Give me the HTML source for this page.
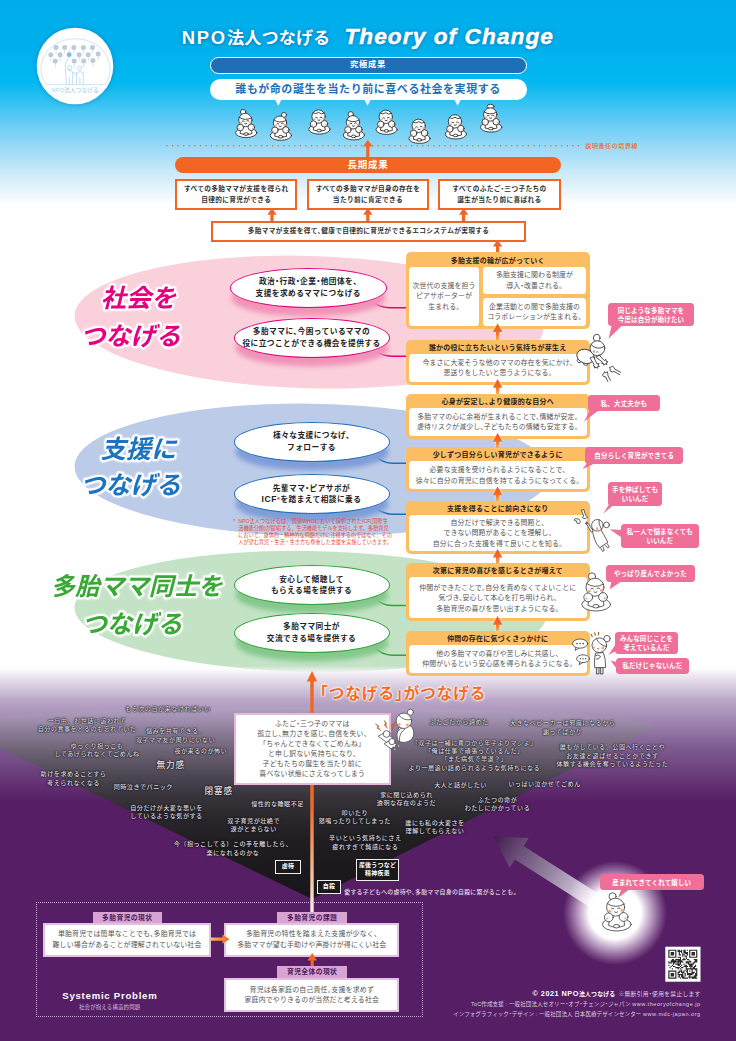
<!DOCTYPE html>
<html lang="ja">
<head>
<meta charset="utf-8">
<title>NPO法人つなげる Theory of Change</title>
<style>
html,body{margin:0;padding:0;background:#fff}
body{width:736px;height:1041px;position:relative;overflow:hidden;font-family:"Liberation Sans","Noto Sans CJK JP",sans-serif;color:#333;-webkit-font-smoothing:antialiased}
.a{position:absolute;box-sizing:border-box}
.c{text-align:center;white-space:nowrap}
svg.bg{position:absolute;left:0;top:0}
/* header */
.title{left:180px;top:22.6px;height:28px;line-height:28px;color:#fff;font-weight:700;white-space:nowrap;text-shadow:0 0 4px rgba(0,90,160,.55),0 1px 2px rgba(0,80,150,.4)}
.title .jp{font-size:17.1px;letter-spacing:.15px;margin-left:1.8px}
.title .jp b{font-size:18.4px;letter-spacing:1.75px}
.title .en{font-size:22.6px;font-style:italic;letter-spacing:1.1px;margin-left:14px;-webkit-text-stroke:.5px #fff}
.pill-blue{left:209.5px;top:56.8px;width:317px;height:17px;border-radius:9px;background:#1d70b7;border:1.6px solid #fff;color:#fff;font-size:8.3px;font-weight:700;line-height:13.6px;letter-spacing:.7px}
.pill-white{left:209.5px;top:79px;width:317px;height:20.6px;border-radius:10.3px;background:#fff;color:#1d70b7;font-size:11px;font-weight:700;line-height:20px;letter-spacing:.55px}
.pill-orange{left:175px;top:157.3px;width:386px;height:16px;border-radius:8px;background:#f26522;color:#fff;font-size:9.5px;font-weight:700;line-height:16px;letter-spacing:.8px}
.obox{background:#fff;border:2px solid #f26522;color:#333;font-size:6.7px;font-weight:700;line-height:10.2px;letter-spacing:.33px;display:flex;align-items:center;justify-content:center;text-align:center;white-space:nowrap}
.border-label{left:585.3px;top:141.7px;font-size:6px;line-height:8px;color:#f26a2b;font-weight:500;letter-spacing:.6px;white-space:nowrap}

body{font-feature-settings:"halt" 1}
/* ellipse pills */
.pill{background:#fff;border-radius:50%;border:1.7px solid #e4007f;color:#222;font-size:7.7px;font-weight:700;line-height:11.6px;letter-spacing:.45px;display:flex;align-items:center;justify-content:center;text-align:center;white-space:nowrap}
.pill.pk{border-color:#e4007f;box-shadow:0 10px 5px -1.5px #f193b8}
.pill.bl{border-color:#1d6fb8;box-shadow:0 10px 5px -1.5px #7f9dd8}
.pill.gr{border-color:#2ea33a;box-shadow:0 10px 5px -1.5px #86c88c}
.note{left:233.3px;top:518px;width:154.5px;font-size:5.15px;line-height:7.05px;color:#e8452c;padding-left:5px;text-align:justify;text-align-last:justify;white-space:nowrap;font-feature-settings:"halt" 0}
/* yellow column */
.yb{left:406px;width:183.5px;background:#fbbe63;border-radius:5px}
.yh{left:406px;width:183.5px;height:14px;line-height:14px;padding-top:1.1px;font-size:7px;font-weight:700;color:#2b2118;letter-spacing:.25px}
.wb{padding-top:1px;background:#fff;border-radius:3.5px;color:#555;font-size:6.9px;line-height:10.4px;letter-spacing:.12px;display:flex;align-items:center;justify-content:center;text-align:center;white-space:nowrap}
/* pink bubbles */
.bub{font-feature-settings:"halt" 0;background:#ef6f99;border-radius:3.5px;color:#fff;font-size:6.5px;font-weight:700;line-height:9px;letter-spacing:.15px;display:flex;align-items:center;justify-content:center;text-align:center;white-space:nowrap}

/* dark section */
.tsu{left:320px;top:681.5px;font-size:15.6px;line-height:24px;color:#f26a21;font-weight:700;letter-spacing:.95px;white-space:nowrap;text-shadow:0 0 1.5px #fff,0 0 2.5px #fff,0 0 3px #fff}
.mbox{left:233.5px;top:712.5px;width:157.5px;height:72.5px;background:#fff;border:2px solid #e9b7dd;color:#555;font-size:6.9px;line-height:10px;letter-spacing:.2px;display:flex;align-items:center;justify-content:center;text-align:center;white-space:nowrap}
.v{font-feature-settings:"halt" 0;position:absolute;transform:translate(-50%,-50%);text-align:center;white-space:nowrap;color:#dcd8e0;font-size:6.1px;line-height:8.3px;letter-spacing:.5px;font-weight:500;text-shadow:0 0 1px #111,0 0 1.5px #111,0 0 2px #222}
.v.big{font-size:8.6px;letter-spacing:.8px;color:#e6e2ea}
.kb{background:#1a181a;border:1px solid #eee;color:#fff;font-size:6px;font-weight:700;line-height:7.8px;letter-spacing:.2px;display:flex;align-items:center;justify-content:center;text-align:center;white-space:nowrap}
.sub{left:344.3px;top:886.6px;font-size:5.9px;line-height:10px;color:#e4dbe8;letter-spacing:.26px;white-space:nowrap;font-weight:500}
/* systemic */
.lab{background:#d9a3d3;color:#4a1a57;font-size:6.8px;font-weight:700;line-height:12px;letter-spacing:.4px;height:12px}
.sbox{background:#fff;border:2px solid #e3bfe3;color:#555;font-size:6.95px;line-height:10.3px;letter-spacing:.17px;display:flex;align-items:center;justify-content:center;text-align:center;white-space:nowrap}
.sp1{left:62.3px;top:989.3px;font-size:9.6px;line-height:14px;color:#fff;font-weight:700;letter-spacing:.75px;white-space:nowrap}
.sp2{left:79px;top:1002.5px;font-size:5.4px;line-height:8px;color:#d9bfe0;letter-spacing:.2px;white-space:nowrap}
.cr{right:35.3px;text-align:right;white-space:nowrap;color:#dccfe2}
.cr1{top:988px;font-size:5.75px;line-height:11px;letter-spacing:.33px}
.cr1 b{font-size:7.3px;color:#fff;letter-spacing:.5px;margin-right:3px}
.cr2{top:1000px;font-size:5.5px;line-height:9px;letter-spacing:.15px}
.cr1 b i{font-style:normal;font-size:5.9px;letter-spacing:.2px}
.cr u{text-decoration:none;letter-spacing:.55px}
.cr3{top:1010px;font-size:5.5px;line-height:9px;letter-spacing:.1px}
</style>
</head>
<body>
<!-- ===== background layers ===== -->
<svg class="bg" width="736" height="1041" viewBox="0 0 736 1041">
  <defs>
    <linearGradient id="gTop" x1="0" y1="0" x2="0" y2="1">
      <stop offset="0" stop-color="#00adea"/>
      <stop offset="0.2" stop-color="#00afec"/>
      <stop offset="0.40" stop-color="#02b8f0"/>
      <stop offset="0.61" stop-color="#6acdf4"/>
      <stop offset="0.73" stop-color="#9edbf7"/>
      <stop offset="0.854" stop-color="#cfebfa"/>
      <stop offset="1" stop-color="#ffffff"/>
    </linearGradient>
    <linearGradient id="gBot" x1="0" y1="0" x2="0" y2="1">
      <stop offset="0" stop-color="#ffffff" stop-opacity="0"/>
      <stop offset="0.05" stop-color="#f3eff6" stop-opacity="1"/>
      <stop offset="0.25" stop-color="#bba8c8"/>
      <stop offset="0.6" stop-color="#7e5b91"/>
      <stop offset="1" stop-color="#561e64"/>
    </linearGradient>
    <linearGradient id="gFun" gradientUnits="userSpaceOnUse" x1="0" y1="690" x2="0" y2="897">
      <stop offset="0" stop-color="#c9bad3" stop-opacity="0"/>
      <stop offset="0.077" stop-color="#b9a9c6" stop-opacity=".5"/>
      <stop offset="0.188" stop-color="#8f809c" stop-opacity="1"/>
      <stop offset="0.30" stop-color="#6b6173"/>
      <stop offset="0.41" stop-color="#4d4753"/>
      <stop offset="0.52" stop-color="#37333a"/>
      <stop offset="0.63" stop-color="#28262a"/>
      <stop offset="0.725" stop-color="#201e21"/>
      <stop offset="1" stop-color="#171517"/>
    </linearGradient>
    <linearGradient id="gArr" x1="0" y1="1" x2="0" y2="0">
      <stop offset="0" stop-color="#fbb65b"/>
      <stop offset="0.5" stop-color="#f26a22"/>
      <stop offset="1" stop-color="#ef5a24"/>
    </linearGradient>
  </defs>
  <rect x="0" y="0" width="736" height="205" fill="url(#gTop)"/>
  <rect x="0" y="801" width="736" height="240" fill="#561e64"/>
  <!-- ellipses -->
  <ellipse cx="309" cy="322.1" rx="234.5" ry="66.2" fill="#fad0db" transform="rotate(1.6 309 322.1)"/>
  <ellipse cx="312.5" cy="470" rx="238" ry="66.3" fill="#bccbe8" transform="rotate(0.9 312.5 470)"/>
  <ellipse cx="310.5" cy="611.4" rx="236" ry="60.5" fill="#c4e3c6" transform="rotate(1.0 310.5 611.4)"/>
  <!-- lavender band re-drawn over green ellipse -->
  <rect x="0" y="666" width="736" height="136" fill="url(#gBot)"/>
  <!-- funnel -->
  <path d="M312 899 L-58 720 L-58 727 A356 20 0 0 1 654 727.5 Z" fill="url(#gFun)"/>

  <!-- glow + light arrow -->
  <defs>
    <radialGradient id="gGlow" cx="0.5" cy="0.5" r="0.5">
      <stop offset="0" stop-color="#fff" stop-opacity="1"/>
      <stop offset="0.5" stop-color="#fff" stop-opacity="1"/>
      <stop offset="0.72" stop-color="#f3e6f7" stop-opacity=".6"/>
      <stop offset="1" stop-color="#e9d4f0" stop-opacity="0"/>
    </radialGradient>
    <linearGradient id="gBeam" gradientUnits="userSpaceOnUse" x1="493.7" y1="836.4" x2="600" y2="904">
      <stop offset="0" stop-color="#3f1c4b"/>
      <stop offset="0.25" stop-color="#6b5078"/>
      <stop offset="0.55" stop-color="#9887a5"/>
      <stop offset="0.85" stop-color="#d5ccdb"/>
      <stop offset="1" stop-color="#ffffff"/>
    </linearGradient>
    <linearGradient id="gLine" gradientUnits="userSpaceOnUse" x1="0" y1="680" x2="0" y2="912">
      <stop offset="0" stop-color="#f26522"/>
      <stop offset="0.55" stop-color="#f26a28"/>
      <stop offset="0.8" stop-color="#f7b08a"/>
      <stop offset="1" stop-color="#fdeee8"/>
    </linearGradient>
  </defs>
  <path d="M493.7 836.4 L528.7 838 L523.5 846.1 L618.3 906.3 L609.7 919.7 L514.8 859.6 L509.6 867.7 Z" fill="url(#gBeam)"/>
  <circle cx="615" cy="913" r="52" fill="url(#gGlow)"/>
  <path d="M310.3 912 L310.3 681.5 L306.9 681.5 L312 671 L317.1 681.5 L313.7 681.5 L313.7 912 Z" fill="url(#gLine)"/>
  <!-- dotted boundary line -->
  <line x1="167" y1="145.8" x2="578.5" y2="145.8" stroke="#f26522" stroke-width="1.5" stroke-linecap="round" stroke-dasharray="0.01 5.55" />
  <!-- header arrows -->
  <path d="M366.2 158 L366.2 146.60000000000002 L363.1 146.60000000000002 L367.8 139.8 L372.5 146.60000000000002 L369.4 146.60000000000002 L369.4 158 Z" fill="#f26522"/>
  <path d="M270.4 222 L270.4 214.8 L267.3 214.8 L272 208 L276.7 214.8 L273.6 214.8 L273.6 222 Z" fill="#f26522"/>
  <path d="M366.2 222 L366.2 214.8 L363.1 214.8 L367.8 208 L372.5 214.8 L369.4 214.8 L369.4 222 Z" fill="#f26522"/>
  <path d="M462.0 222 L462.0 214.8 L458.9 214.8 L463.6 208 L468.3 214.8 L465.2 214.8 L465.2 222 Z" fill="#f26522"/>
  <path d="M496.0 253.5 L496.0 246.60000000000002 L492.9 246.60000000000002 L497.6 239.8 L502.3 246.60000000000002 L499.2 246.60000000000002 L499.2 253.5 Z" fill="#f26522"/>
</svg>

<!-- ===== logo ===== -->
<svg class="bg" width="736" height="1041" viewBox="0 0 736 1041">
  <circle cx="75" cy="66" r="38.3" fill="#fff" style="filter:drop-shadow(0 0 2.5px rgba(0,90,160,.45))"/>
  <path d="M46.7 84.6 C33 70 44 39 75.3 38.8 C107 39 118 70 104.5 84.6 Z" fill="none" stroke="#b7dcf5" stroke-width=".7"/>
  <g fill="#bccbd9"><circle cx="56.0" cy="47.6" r="2.5"/><rect x="55.75" y="49.6" width=".5" height="4.6"/><circle cx="64.7" cy="47.6" r="2.5"/><rect x="64.45" y="49.6" width=".5" height="4.6"/><circle cx="73.9" cy="47.6" r="2.5"/><rect x="73.65" y="49.6" width=".5" height="4.6"/><circle cx="83.4" cy="47.6" r="2.5"/><rect x="83.15" y="49.6" width=".5" height="4.6"/><circle cx="92.5" cy="47.6" r="2.5"/><rect x="92.25" y="49.6" width=".5" height="4.6"/><circle cx="50.8" cy="54.7" r="2.5"/><rect x="50.55" y="56.7" width=".5" height="4.6"/><circle cx="60.1" cy="54.7" r="2.5"/><rect x="59.85" y="56.7" width=".5" height="4.6"/><circle cx="79.1" cy="54.7" r="2.5"/><rect x="78.85" y="56.7" width=".5" height="4.6"/><circle cx="88.2" cy="54.7" r="2.5"/><rect x="87.95" y="56.7" width=".5" height="4.6"/><circle cx="98.1" cy="54.1" r="2.5"/><rect x="97.85" y="56.1" width=".5" height="4.6"/><circle cx="55.2" cy="60.9" r="2.5"/><rect x="54.95" y="62.9" width=".5" height="4.6"/><circle cx="74.2" cy="60.9" r="2.5"/><rect x="73.95" y="62.9" width=".5" height="4.6"/><circle cx="83.7" cy="60.9" r="2.5"/><rect x="83.45" y="62.9" width=".5" height="4.6"/><circle cx="92.9" cy="60.5" r="2.5"/><rect x="92.65" y="62.5" width=".5" height="4.6"/></g>
  <circle cx="69.2" cy="54.7" r="2.4" fill="#7fbbe9"/>
  <path d="M68.2 50.6 l.9 1 l.9 -1" fill="none" stroke="#f0a860" stroke-width=".6"/>
  <g fill="none" stroke="#a3d0f0" stroke-width=".7" stroke-linejoin="round">
    <path d="M68.8 57.1 L65.2 64.2 L66.4 84.6 M72.6 84.6 L72.8 72.1 M69.2 84.6 V76.8"/>
    <circle cx="69.8" cy="67.7" r="2.2"/>
    <path d="M67.1 70.0 Q69.8 69.1 72.8 72.1 L76.4 74.8"/>
    <circle cx="79.6" cy="68.3" r="2"/>
    <path d="M76.6 84.6 V72.7 Q79.6 70.7 83.2 72.7 V84.6 M79.9 84.6 V77.8"/>
  </g>
  <text x="75.2" y="92.3" text-anchor="middle" font-size="5.5" fill="#a6d2f0" style="font-family:'Liberation Sans','Noto Sans CJK JP',sans-serif;font-weight:500;letter-spacing:.25px">NPO法人つなげる</text>
</svg>
<!-- ===== header ===== -->
<div class="a title"><span class="jp"><b>NPO</b>法人つなげる</span><span class="en">Theory of Change</span></div>
<div class="a c pill-blue">究極成果</div>
<div class="a c pill-white">誰もが命の誕生を当たり前に喜べる社会を実現する</div>
<div class="a border-label">説明責任の境界線</div>
<div class="a c pill-orange">長期成果</div>
<div class="a obox" style="left:175.2px;top:179px;width:122px;height:31px">すべての多胎ママが支援を得られ<br>自律的に育児ができる</div>
<div class="a obox" style="left:306.6px;top:179px;width:122.6px;height:31px">すべての多胎ママが自身の存在を<br>当たり前に肯定できる</div>
<div class="a obox" style="left:438px;top:179px;width:122.8px;height:31px">すべてのふたご・三つ子たちの<br>誕生が当たり前に喜ばれる</div>
<div class="a obox" style="left:211px;top:221px;width:315px;height:20.5px">多胎ママが支援を得て、健康で自律的に育児ができるエコシステムが実現する</div>
<!-- ===== three connect areas ===== -->
<svg class="bg" width="736" height="1041" viewBox="0 0 736 1041" style="font-family:'Liberation Sans','Noto Sans CJK JP',sans-serif;font-weight:700;font-style:italic" text-anchor="middle" stroke-linejoin="round">
  <g font-size="25.2" stroke="#fff" stroke-width="4" paint-order="stroke" style="filter:drop-shadow(0 0 1.2px rgba(255,255,255,.95))">
    <text x="138.5" y="307.3" fill="#e4007f">社会を</text>
    <text x="130.5" y="344.8" fill="#e4007f">つなげる</text>
    <text x="138.5" y="458.3" fill="#1c73bf">支援に</text>
    <text x="130.5" y="494.3" fill="#1c73bf">つなげる</text>
    <text x="136.5" y="595.2" fill="#39a935" font-size="24.6">多胎ママ同士を</text>
    <text x="132" y="633" fill="#39a935">つなげる</text>
  </g>
  <!-- connectors from pills to boxes -->
  <g fill="none" stroke-width="1.5">
    <path d="M370 299.5 C376 305 381 307.7 390 307.7 L407 307.7" stroke="#e4007f"/>
    <path d="M373.5 349.5 C379 354 384 356.2 392 356.2 L407 356.2" stroke="#e4007f"/>
    <path d="M373.5 454 C379 460 384 463.2 392 463.2 L407 463.2" stroke="#1d6fb8"/>
    <path d="M373.5 506 C379 511 384 514.2 392 514.2 L407 514.2" stroke="#1d6fb8"/>
    <path d="M373.5 597 C379 602.5 384 605.6 392 605.6 L407 605.6" stroke="#2ea33a"/>
    <path d="M373.5 646.5 C379 652 384 655.2 392 655.2 L407 655.2" stroke="#2ea33a"/>
  </g>
</svg>
<div class="a pill pk" style="left:230px;top:268px;width:156.5px;height:39.5px">政治・行政・企業・他団体を、<br>支援を求めるママにつなげる</div>
<div class="a pill pk" style="left:233.5px;top:318px;width:156px;height:39.5px">多胎ママに、今困っているママの<br>役に立つことができる機会を提供する</div>
<div class="a pill bl" style="left:233.5px;top:422.3px;width:156px;height:39.5px">様々な支援につなげ、<br>フォローする</div>
<div class="a pill bl" style="left:233.5px;top:474.4px;width:156px;height:39.6px"><span>先輩ママ・ピアサポが<br><span style="font-size:8.6px;letter-spacing:.5px">ICF</span><span style="color:#e8452c">*</span>を踏まえて相談に乗る</span></div>
<div class="a pill gr" style="left:233.5px;top:565.3px;width:156px;height:39.7px">安心して傾聴して<br>もらえる場を提供する</div>
<div class="a pill gr" style="left:233.5px;top:613px;width:156px;height:39.8px">多胎ママ同士が<br>交流できる場を提供する</div>
<div class="a note"><span style="position:absolute;left:0">*</span>NPO法人つなげるは、国連WHOにおいて採択されたICF(国際生<br>活機能分類)が提唱する、生活機能モデルを支持します。多胎育児<br>において、身体的・精神的な問題だけに注視するのではなく、その<br>人が望む育児・生活・生き方も尊重した支援を実施していきます。</div>

<!-- ===== outcome column ===== -->
<div class="a yb" style="top:252.2px;height:76.6px"></div>
<div class="a c yh" style="top:252.5px">多胎支援の輪が広がっていく</div>
<div class="a yb" style="top:340px;height:44.5px"></div>
<div class="a c yh" style="top:340px">誰かの役に立ちたいという気持ちが芽生え</div>
<div class="a wb" style="left:409px;top:354px;width:177.5px;height:27.5px">今まさに大変そうな他のママの存在を気にかけ、<br>恩送りをしたいと思うようになる。</div>
<div class="a yb" style="top:393.5px;height:45.0px"></div>
<div class="a c yh" style="top:393.5px">心身が安定し、より健康的な自分へ</div>
<div class="a wb" style="left:409px;top:407.8px;width:177.5px;height:28.2px">多胎ママの心に余裕が生まれることで、情緒が安定。<br>虐待リスクが減少し、子どもたちの情緒も安定する。</div>
<div class="a yb" style="top:447.3px;height:44.7px"></div>
<div class="a c yh" style="top:447.3px">少しずつ自分らしい育児ができるように</div>
<div class="a wb" style="left:409px;top:461.3px;width:177.5px;height:27.7px">必要な支援を受けられるようになることで、<br>徐々に自分の育児に自信を持てるようになってくる。</div>
<div class="a yb" style="top:500.5px;height:53.8px"></div>
<div class="a c yh" style="top:500.5px">支援を得ることに前向きになり</div>
<div class="a wb" style="left:409px;top:514.8px;width:177.5px;height:36.5px">自分だけで解決できる問題と、<br>できない問題があることを理解し、<br>自分に合った支援を得て良いことを知る。</div>
<div class="a yb" style="top:563.2px;height:58.3px"></div>
<div class="a c yh" style="top:563.2px">次第に育児の喜びを感じるときが増えて</div>
<div class="a wb" style="left:409px;top:577.3px;width:177.5px;height:41.2px">仲間ができたことで、自分を責めなくてよいことに<br>気づき、安心して本心を打ち明けられ、<br>多胎育児の喜びを思い出すようになる。</div>
<div class="a yb" style="top:630.5px;height:45.3px"></div>
<div class="a c yh" style="top:630.5px">仲間の存在に気づくきっかけに</div>
<div class="a wb" style="left:409px;top:644.8px;width:177.5px;height:28.2px">他の多胎ママの喜びや苦しみに共感し、<br>仲間がいるという安心感を得られるようになる。</div>
<div class="a wb" style="left:409px;top:266.5px;width:70px;height:59.2px">次世代の支援を担う<br>ピアサポーターが<br>生まれる。</div>
<div class="a wb" style="left:482.7px;top:266.5px;width:103.5px;height:27.2px">多胎支援に関わる制度が<br>導入・改善される。</div>
<div class="a wb" style="left:482.7px;top:298.2px;width:103.5px;height:27.5px">企業活動との間で多胎支援の<br>コラボレーションが生まれる。</div>
<svg class="bg" width="736" height="1041" viewBox="0 0 736 1041" style="filter:drop-shadow(0 0 1px rgba(255,255,255,.8))">
  <path d="M495.9 341.0 L495.9 332.0 L492.8 332.0 L497.6 323.4 L502.4 332.0 L499.3 332.0 L499.3 341.0 Z" fill="url(#gArr)"/>
  <path d="M495.9 394.5 L495.9 387.7 L492.8 387.7 L497.6 379.1 L502.4 387.7 L499.3 387.7 L499.3 394.5 Z" fill="url(#gArr)"/>
  <path d="M495.9 448.3 L495.9 441.7 L492.8 441.7 L497.6 433.1 L502.4 441.7 L499.3 441.7 L499.3 448.3 Z" fill="url(#gArr)"/>
  <path d="M495.9 501.5 L495.9 495.2 L492.8 495.2 L497.6 486.6 L502.4 495.2 L499.3 495.2 L499.3 501.5 Z" fill="url(#gArr)"/>
  <path d="M495.9 564.2 L495.9 557.5 L492.8 557.5 L497.6 548.9 L502.4 557.5 L499.3 557.5 L499.3 564.2 Z" fill="url(#gArr)"/>
  <path d="M495.9 631.5 L495.9 624.7 L492.8 624.7 L497.6 616.1 L502.4 624.7 L499.3 624.7 L499.3 631.5 Z" fill="url(#gArr)"/>
</svg>
<!-- ===== voices ===== -->
<div class="a bub" style="left:608.2px;top:302.7px;width:85.6px;height:23.8px">同じような多胎ママを<br>今度は自分が助けたい</div>
<div class="a bub" style="left:588px;top:395px;width:72.0px;height:16.2px">私、大丈夫かも</div>
<div class="a bub" style="left:585.3px;top:447.4px;width:97.9px;height:16.5px">自分らしく育児ができてる</div>
<div class="a bub" style="left:608.2px;top:481.5px;width:53.8px;height:24.2px">手を伸ばしても<br>いいんだ</div>
<div class="a bub" style="left:620.7px;top:524.3px;width:78.3px;height:24.0px">私一人で悩まなくても<br>いいんだ</div>
<div class="a bub" style="left:605.9px;top:565.3px;width:89.0px;height:16.5px">やっぱり産んでよかった</div>
<div class="a bub" style="left:615px;top:632.2px;width:63.0px;height:22.1px">みんな同じことを<br>考えているんだ</div>
<div class="a bub" style="left:615.6px;top:657.7px;width:73.6px;height:16.3px">私だけじゃないんだ</div>
<svg class="bg" width="736" height="1041" viewBox="0 0 736 1041">
  <polygon points="611.5,326 621.5,326 608.6,338.7" fill="#ef6f99"/>
  <polygon points="590,410.5 598.5,410.5 584,421.4" fill="#ef6f99"/>
  <polygon points="587,463 595.5,463 582.5,469.2" fill="#ef6f99"/>
  <polygon points="608.6,505 613.5,505 603.3,513.7" fill="#ef6f99"/>
  <polygon points="621.5,530 621.5,537.5 609.7,529.2" fill="#ef6f99"/>
  <polygon points="611.5,581 622,581 609.7,589.2" fill="#ef6f99"/>
  <polygon points="615.8,644 615.8,651 608.6,655" fill="#ef6f99"/>
  <polygon points="616.4,662 616.4,668.5 610.7,660.6" fill="#ef6f99"/>
  <polygon points="621,890 628.5,890 618,897.7" fill="#ef6f99"/>
</svg>
<!-- ===== problem area ===== -->
<div class="a tsu">「つなげる」がつなげる</div>
<div class="v " style="left:168px;top:709.4px">もう次の日が来なければいい</div>
<div class="v " style="left:87px;top:725.2px">一日中、お世話に追われて<br>自分の食事をとるのも忘れていた</div>
<div class="v " style="left:175.5px;top:735.4px">悩みを共有できる、<br>双子ママ友が周りにいない</div>
<div class="v " style="left:97px;top:750px">ゆっくり抱っこも<br>してあげられなくてごめんね</div>
<div class="v " style="left:200.8px;top:751px">夜が来るのが怖い</div>
<div class="v big" style="left:170.7px;top:765.4px">無力感</div>
<div class="v " style="left:73.5px;top:778.3px">助けを求めることすら<br>考えられなくなる</div>
<div class="v " style="left:143.3px;top:786.8px">同時泣きでパニック</div>
<div class="v big" style="left:218.7px;top:791.2px">閉塞感</div>
<div class="v " style="left:166.5px;top:811.8px">自分だけが大変な思いを<br>しているような気がする</div>
<div class="v " style="left:277.5px;top:803.7px">慢性的な睡眠不足</div>
<div class="v " style="left:253.7px;top:825px">双子育児が壮絶で<br>涙がとまらない</div>
<div class="v " style="left:233px;top:848.4px">今（抱っこしてる）この手を離したら、<br>楽になれるのかな</div>
<div class="v " style="left:354.8px;top:817px">叩いたり<br>怒鳴ったりしてしまった</div>
<div class="v " style="left:365.3px;top:842.4px">辛いという気持ちにさえ<br>疲れすぎて鈍感になる</div>
<div class="v " style="left:459px;top:721.6px">ふたごだから諦めた</div>
<div class="v " style="left:562.6px;top:727.4px">大きなベビーカーは邪魔になるから<br>謝ってばかり</div>
<div class="v " style="left:474.3px;top:755.8px">「双子は一緒に育つから年子よりマシよ」<br>「俺は仕事で頑張っているんだ」<br>「また病気で早退？」<br>より一層追い詰められるような気持ちになる</div>
<div class="v " style="left:612.4px;top:755.4px">誰もがしている、公園へ行くことや<br>お友達と遊ばせることができず<br>体験する機会を奪っているようだった</div>
<div class="v " style="left:460.5px;top:784.5px">大人と話がしたい</div>
<div class="v " style="left:544.5px;top:784px">いっぱい泣かせてごめん</div>
<div class="v " style="left:497.5px;top:803.7px">ふたつの命が<br>わたしにかかっている</div>
<div class="v " style="left:406.5px;top:799.1px">家に閉じ込められ<br>透明な存在のようだ</div>
<div class="v " style="left:435px;top:826.8px">誰にも私の大変さを<br>理解してもらえない</div>
<div class="a mbox">ふたご・三つ子のママは<br>孤立し、無力さを感じ、自信を失い、<br>「ちゃんとできなくてごめんね」<br>と申し訳ない気持ちになり、<br>子どもたちの誕生を当たり前に<br>喜べない状態にさえなってしまう</div>
<div class="a kb" style="left:275px;top:859.5px;width:26px;height:14.5px">虐待</div>
<div class="a kb" style="left:356px;top:859px;width:43px;height:21.6px">産後うつなど<br>精神疾患</div>
<div class="a kb" style="left:317px;top:880.4px;width:24px;height:13.8px">自殺</div>
<div class="a sub">愛する子どもへの虐待や、多胎ママ自身の自殺に繋がることも。</div>
<!-- ===== systemic problem ===== -->
<div class="a" style="left:35.5px;top:902px;width:387px;height:115px;border:1px dotted rgba(226,208,234,.8)"></div>
<div class="a c lab" style="left:92.5px;top:911.5px;width:69.5px">多胎育児の現状</div>
<div class="a sbox" style="left:43.3px;top:922.8px;width:167.5px;height:33.8px">単胎育児では簡単なことでも、多胎育児では<br>難しい場合があることが理解されていない社会</div>
<div class="a c lab" style="left:277.3px;top:911.5px;width:69.7px">多胎育児の課題</div>
<div class="a sbox" style="left:224.3px;top:922.8px;width:175px;height:33.8px">多胎育児の特性を踏まえた支援が少なく、<br>多胎ママが望む手助けや声掛けが得にくい社会</div>
<div class="a c lab" style="left:277.3px;top:966px;width:69.7px">育児全体の現状</div>
<div class="a sbox" style="left:224.3px;top:978px;width:175px;height:33.8px">育児は各家庭の自己責任。支援を求めず<br>家庭内でやりきるのが当然だと考える社会</div>
<div class="a sp1">Systemic Problem</div>
<div class="a sp2">社会が抱える構造的問題</div>
<div class="a bub" style="left:600px;top:874.3px;width:103.5px;height:16.2px">産まれてきてくれて嬉しい</div>
<div class="a cr cr1"><b>© 2021 NPO<i>法人つなげる</i></b>※無断引用・使用を禁止します</div>
<div class="a cr cr2">ToC作成支援 : 一般社団法人セオリー・オブ・チェンジ・ジャパン <u>www.theoryofchange.jp</u></div>
<div class="a cr cr3">インフォグラフィック・デザイン : 一般社団法人 日本医療デザインセンター <u>www.mdc-japan.org</u></div>
<!-- ===== qr + arrows ===== -->
<svg class="bg" width="736" height="1041" viewBox="0 0 736 1041">
  <rect x="665.3" y="946.7" width="35.2" height="35" fill="#fff"/>
  <path d="M668.30 949.70h8.12v1.16h-8.12zM677.58 949.70h2.32v1.16h-2.32zM681.06 949.70h1.16v1.16h-1.16zM683.38 949.70h2.32v1.16h-2.32zM686.86 949.70h1.16v1.16h-1.16zM689.18 949.70h8.12v1.16h-8.12zM668.30 950.86h1.16v1.16h-1.16zM675.26 950.86h1.16v1.16h-1.16zM677.58 950.86h4.64v1.16h-4.64zM683.38 950.86h2.32v1.16h-2.32zM689.18 950.86h1.16v1.16h-1.16zM696.14 950.86h1.16v1.16h-1.16zM668.30 952.02h1.16v1.16h-1.16zM670.62 952.02h3.48v1.16h-3.48zM675.26 952.02h1.16v1.16h-1.16zM678.74 952.02h1.16v1.16h-1.16zM681.06 952.02h1.16v1.16h-1.16zM683.38 952.02h4.64v1.16h-4.64zM689.18 952.02h1.16v1.16h-1.16zM691.50 952.02h3.48v1.16h-3.48zM696.14 952.02h1.16v1.16h-1.16zM668.30 953.18h1.16v1.16h-1.16zM670.62 953.18h3.48v1.16h-3.48zM675.26 953.18h1.16v1.16h-1.16zM678.74 953.18h1.16v1.16h-1.16zM682.22 953.18h1.16v1.16h-1.16zM684.54 953.18h3.48v1.16h-3.48zM689.18 953.18h1.16v1.16h-1.16zM691.50 953.18h3.48v1.16h-3.48zM696.14 953.18h1.16v1.16h-1.16zM668.30 954.34h1.16v1.16h-1.16zM670.62 954.34h3.48v1.16h-3.48zM675.26 954.34h1.16v1.16h-1.16zM678.74 954.34h2.32v1.16h-2.32zM682.22 954.34h2.32v1.16h-2.32zM686.86 954.34h1.16v1.16h-1.16zM689.18 954.34h1.16v1.16h-1.16zM691.50 954.34h3.48v1.16h-3.48zM696.14 954.34h1.16v1.16h-1.16zM668.30 955.50h1.16v1.16h-1.16zM675.26 955.50h1.16v1.16h-1.16zM682.22 955.50h1.16v1.16h-1.16zM684.54 955.50h2.32v1.16h-2.32zM689.18 955.50h1.16v1.16h-1.16zM696.14 955.50h1.16v1.16h-1.16zM668.30 956.66h8.12v1.16h-8.12zM677.58 956.66h3.48v1.16h-3.48zM685.70 956.66h1.16v1.16h-1.16zM689.18 956.66h8.12v1.16h-8.12zM679.90 957.82h1.16v1.16h-1.16zM683.38 957.82h1.16v1.16h-1.16zM685.70 957.82h1.16v1.16h-1.16zM671.78 958.98h2.32v1.16h-2.32zM675.26 958.98h5.80v1.16h-5.80zM682.22 958.98h3.48v1.16h-3.48zM686.86 958.98h2.32v1.16h-2.32zM693.82 958.98h3.48v1.16h-3.48zM670.62 960.14h5.80v1.16h-5.80zM677.58 960.14h4.64v1.16h-4.64zM689.18 960.14h1.16v1.16h-1.16zM694.98 960.14h2.32v1.16h-2.32zM668.30 961.30h1.16v1.16h-1.16zM670.62 961.30h12.76v1.16h-12.76zM685.70 961.30h5.80v1.16h-5.80zM693.82 961.30h3.48v1.16h-3.48zM668.30 962.46h3.48v1.16h-3.48zM672.94 962.46h2.32v1.16h-2.32zM677.58 962.46h1.16v1.16h-1.16zM679.90 962.46h1.16v1.16h-1.16zM685.70 962.46h3.48v1.16h-3.48zM692.66 962.46h2.32v1.16h-2.32zM672.94 963.62h1.16v1.16h-1.16zM675.26 963.62h5.80v1.16h-5.80zM683.38 963.62h1.16v1.16h-1.16zM688.02 963.62h5.80v1.16h-5.80zM668.30 964.78h1.16v1.16h-1.16zM671.78 964.78h1.16v1.16h-1.16zM677.58 964.78h2.32v1.16h-2.32zM681.06 964.78h1.16v1.16h-1.16zM684.54 964.78h2.32v1.16h-2.32zM689.18 964.78h3.48v1.16h-3.48zM694.98 964.78h1.16v1.16h-1.16zM670.62 965.94h1.16v1.16h-1.16zM672.94 965.94h2.32v1.16h-2.32zM679.90 965.94h1.16v1.16h-1.16zM683.38 965.94h4.64v1.16h-4.64zM689.18 965.94h3.48v1.16h-3.48zM693.82 965.94h2.32v1.16h-2.32zM669.46 967.10h1.16v1.16h-1.16zM675.26 967.10h4.64v1.16h-4.64zM681.06 967.10h2.32v1.16h-2.32zM685.70 967.10h1.16v1.16h-1.16zM690.34 967.10h1.16v1.16h-1.16zM692.66 967.10h2.32v1.16h-2.32zM671.78 968.26h1.16v1.16h-1.16zM677.58 968.26h1.16v1.16h-1.16zM679.90 968.26h1.16v1.16h-1.16zM685.70 968.26h11.60v1.16h-11.60zM681.06 969.42h1.16v1.16h-1.16zM684.54 969.42h1.16v1.16h-1.16zM686.86 969.42h1.16v1.16h-1.16zM691.50 969.42h1.16v1.16h-1.16zM694.98 969.42h2.32v1.16h-2.32zM668.30 970.58h8.12v1.16h-8.12zM678.74 970.58h3.48v1.16h-3.48zM683.38 970.58h1.16v1.16h-1.16zM685.70 970.58h2.32v1.16h-2.32zM689.18 970.58h1.16v1.16h-1.16zM691.50 970.58h1.16v1.16h-1.16zM696.14 970.58h1.16v1.16h-1.16zM668.30 971.74h1.16v1.16h-1.16zM675.26 971.74h1.16v1.16h-1.16zM677.58 971.74h2.32v1.16h-2.32zM681.06 971.74h3.48v1.16h-3.48zM686.86 971.74h1.16v1.16h-1.16zM691.50 971.74h3.48v1.16h-3.48zM696.14 971.74h1.16v1.16h-1.16zM668.30 972.90h1.16v1.16h-1.16zM670.62 972.90h3.48v1.16h-3.48zM675.26 972.90h1.16v1.16h-1.16zM677.58 972.90h1.16v1.16h-1.16zM682.22 972.90h1.16v1.16h-1.16zM684.54 972.90h1.16v1.16h-1.16zM686.86 972.90h6.96v1.16h-6.96zM694.98 972.90h2.32v1.16h-2.32zM668.30 974.06h1.16v1.16h-1.16zM670.62 974.06h3.48v1.16h-3.48zM675.26 974.06h1.16v1.16h-1.16zM677.58 974.06h5.80v1.16h-5.80zM684.54 974.06h1.16v1.16h-1.16zM686.86 974.06h5.80v1.16h-5.80zM694.98 974.06h2.32v1.16h-2.32zM668.30 975.22h1.16v1.16h-1.16zM670.62 975.22h3.48v1.16h-3.48zM675.26 975.22h1.16v1.16h-1.16zM678.74 975.22h1.16v1.16h-1.16zM681.06 975.22h2.32v1.16h-2.32zM684.54 975.22h1.16v1.16h-1.16zM689.18 975.22h1.16v1.16h-1.16zM693.82 975.22h3.48v1.16h-3.48zM668.30 976.38h1.16v1.16h-1.16zM675.26 976.38h1.16v1.16h-1.16zM677.58 976.38h2.32v1.16h-2.32zM681.06 976.38h3.48v1.16h-3.48zM688.02 976.38h8.12v1.16h-8.12zM668.30 977.54h8.12v1.16h-8.12zM679.90 977.54h1.16v1.16h-1.16zM682.22 977.54h5.80v1.16h-5.80zM689.18 977.54h1.16v1.16h-1.16zM691.50 977.54h5.80v1.16h-5.80z" fill="#2a2a2a"/>
  <path d="M211 937.6 L222.5 937.6 L222.5 934.6 L229.5 939.2 L222.5 943.8 L222.5 940.8 L211 940.8 Z" fill="url(#gArrH)"/>
  <path d="M310.6 966 L310.6 960.5 L307.4 960.5 L312.2 953 L317 960.5 L313.8 960.5 L313.8 966 Z" fill="#f26522"/>
  <defs><linearGradient id="gArrH" x1="0" y1="0" x2="1" y2="0"><stop offset="0" stop-color="#fbb65b"/><stop offset="1" stop-color="#f26522"/></linearGradient></defs>
</svg>
<!-- ===== illustrations ===== -->
<svg class="bg" width="736" height="1041" viewBox="0 0 736 1041">
  <path d="M274.8 99 L278.3 105.8 L281.8 99 Z M364 99 L367.5 105.8 L371 99 Z M454.1 99 L457.6 105.8 L461.1 99 Z" fill="#fff"/>
  <g transform="translate(235.3 109.2) scale(0.74)" fill="#fff" stroke="#303030" stroke-width="1.2" stroke-linejoin="round" stroke-linecap="round">
    <ellipse cx="14.8" cy="31.8" rx="14.4" ry="6.6"/>
    <path d="M8 22 Q14.8 18 21.5 22 L22.5 33 Q14.8 36.5 7 33 Z"/>
    <circle cx="10.6" cy="3.8" r="3.6"/>
    <circle cx="13.6" cy="14.6" r="9"/>
    <path d="M5.4 11 Q13 16.5 22.2 11.5" fill="none"/>
    <circle cx="6.8" cy="24.8" r="4.4"/>
    <circle cx="21.6" cy="24.4" r="4.4"/>
    <ellipse cx="14.5" cy="33.6" rx="3" ry="1.8"/>
    <path d="M9.4 16.2 q1.3 -1.1 2.6 0 M15.6 15.8 q1.3 -1.1 2.6 0 M12.6 19.4 q1.5 1.3 3 0" fill="none"/>
    <g stroke="none" fill="#f6a27c"><ellipse cx="7.6" cy="18.6" rx="1.7" ry="1.3"/><ellipse cx="20.2" cy="17.8" rx="1.7" ry="1.3"/><circle cx="5" cy="26" r="1"/><circle cx="23.4" cy="25.6" r="1"/></g>
  </g>
  <g transform="translate(269.9 111.9) scale(0.74)" fill="#fff" stroke="#303030" stroke-width="1.2" stroke-linejoin="round" stroke-linecap="round">
    <ellipse cx="14.8" cy="31.8" rx="14.4" ry="6.6"/>
    <path d="M8 22 Q14.8 18 21.5 22 L22.5 33 Q14.8 36.5 7 33 Z"/>
    <circle cx="19" cy="4.2" r="3.4"/>
    <circle cx="13.6" cy="14.6" r="9"/>
    <path d="M5.4 11 Q13 16.5 22.2 11.5" fill="none"/>
    <circle cx="6.8" cy="24.8" r="4.4"/>
    <circle cx="21.6" cy="24.4" r="4.4"/>
    <ellipse cx="14.5" cy="33.6" rx="3" ry="1.8"/>
    <path d="M9.4 16.2 q1.3 -1.1 2.6 0 M15.6 15.8 q1.3 -1.1 2.6 0 M12.6 19.4 q1.5 1.3 3 0" fill="none"/>
    <g stroke="none" fill="#f6a27c"><ellipse cx="7.6" cy="18.6" rx="1.7" ry="1.3"/><ellipse cx="20.2" cy="17.8" rx="1.7" ry="1.3"/><circle cx="5" cy="26" r="1"/><circle cx="23.4" cy="25.6" r="1"/></g>
  </g>
  <g transform="translate(308.5 105.7) scale(0.74)" fill="#fff" stroke="#303030" stroke-width="1.2" stroke-linejoin="round" stroke-linecap="round">
    <ellipse cx="14.8" cy="31.8" rx="14.4" ry="6.6"/>
    <path d="M8 22 Q14.8 18 21.5 22 L22.5 33 Q14.8 36.5 7 33 Z"/>
    
    <circle cx="13.6" cy="14.6" r="9"/>
    <path d="M6 9.5 Q10 12.5 13.6 9 Q17 12.5 21.5 10" fill="none"/>
    <circle cx="6.8" cy="24.8" r="4.4"/>
    <circle cx="21.6" cy="24.4" r="4.4"/>
    <ellipse cx="14.5" cy="33.6" rx="3" ry="1.8"/>
    <path d="M9.4 16.2 q1.3 -1.1 2.6 0 M15.6 15.8 q1.3 -1.1 2.6 0 M12.6 19.4 q1.5 1.3 3 0" fill="none"/>
    <g stroke="none" fill="#f6a27c"><ellipse cx="7.6" cy="18.6" rx="1.7" ry="1.3"/><ellipse cx="20.2" cy="17.8" rx="1.7" ry="1.3"/><circle cx="5" cy="26" r="1"/><circle cx="23.4" cy="25.6" r="1"/></g>
  </g>
  <g transform="translate(342.9 111.5) scale(0.74)" fill="#fff" stroke="#303030" stroke-width="1.2" stroke-linejoin="round" stroke-linecap="round">
    <ellipse cx="14.8" cy="31.8" rx="14.4" ry="6.6"/>
    <path d="M8 22 Q14.8 18 21.5 22 L22.5 33 Q14.8 36.5 7 33 Z"/>
    <circle cx="10.6" cy="3.8" r="3.6"/>
    <circle cx="13.6" cy="14.6" r="9"/>
    <path d="M5.4 11 Q13 16.5 22.2 11.5" fill="none"/>
    <circle cx="6.8" cy="24.8" r="4.4"/>
    <circle cx="21.6" cy="24.4" r="4.4"/>
    <ellipse cx="14.5" cy="33.6" rx="3" ry="1.8"/>
    <path d="M9.4 16.2 q1.3 -1.1 2.6 0 M15.6 15.8 q1.3 -1.1 2.6 0 M12.6 19.4 q1.5 1.3 3 0" fill="none"/>
    <g stroke="none" fill="#f6a27c"><ellipse cx="7.6" cy="18.6" rx="1.7" ry="1.3"/><ellipse cx="20.2" cy="17.8" rx="1.7" ry="1.3"/><circle cx="5" cy="26" r="1"/><circle cx="23.4" cy="25.6" r="1"/></g>
  </g>
  <g transform="translate(375.7 106) scale(0.74)" fill="#fff" stroke="#303030" stroke-width="1.2" stroke-linejoin="round" stroke-linecap="round">
    <ellipse cx="14.8" cy="31.8" rx="14.4" ry="6.6"/>
    <path d="M8 22 Q14.8 18 21.5 22 L22.5 33 Q14.8 36.5 7 33 Z"/>
    
    <circle cx="13.6" cy="14.6" r="9"/>
    <path d="M6 9.5 Q10 12.5 13.6 9 Q17 12.5 21.5 10" fill="none"/>
    <circle cx="6.8" cy="24.8" r="4.4"/>
    <circle cx="21.6" cy="24.4" r="4.4"/>
    <ellipse cx="14.5" cy="33.6" rx="3" ry="1.8"/>
    <path d="M9.4 16.2 q1.3 -1.1 2.6 0 M15.6 15.8 q1.3 -1.1 2.6 0 M12.6 19.4 q1.5 1.3 3 0" fill="none"/>
    <g stroke="none" fill="#f6a27c"><ellipse cx="7.6" cy="18.6" rx="1.7" ry="1.3"/><ellipse cx="20.2" cy="17.8" rx="1.7" ry="1.3"/><circle cx="5" cy="26" r="1"/><circle cx="23.4" cy="25.6" r="1"/></g>
  </g>
  <g transform="translate(408.6 115) scale(0.74)" fill="#fff" stroke="#303030" stroke-width="1.2" stroke-linejoin="round" stroke-linecap="round">
    <ellipse cx="14.8" cy="31.8" rx="14.4" ry="6.6"/>
    <path d="M8 22 Q14.8 18 21.5 22 L22.5 33 Q14.8 36.5 7 33 Z"/>
    
    <circle cx="13.6" cy="14.6" r="9"/>
    <path d="M6 9.5 Q10 12.5 13.6 9 Q17 12.5 21.5 10" fill="none"/>
    <circle cx="6.8" cy="24.8" r="4.4"/>
    <circle cx="21.6" cy="24.4" r="4.4"/>
    <ellipse cx="14.5" cy="33.6" rx="3" ry="1.8"/>
    <path d="M9.4 16.2 q1.3 -1.1 2.6 0 M15.6 15.8 q1.3 -1.1 2.6 0 M12.6 19.4 q1.5 1.3 3 0" fill="none"/>
    <g stroke="none" fill="#f6a27c"><ellipse cx="7.6" cy="18.6" rx="1.7" ry="1.3"/><ellipse cx="20.2" cy="17.8" rx="1.7" ry="1.3"/><circle cx="5" cy="26" r="1"/><circle cx="23.4" cy="25.6" r="1"/></g>
  </g>
  <g transform="translate(444.9 110.6) scale(0.74)" fill="#fff" stroke="#303030" stroke-width="1.2" stroke-linejoin="round" stroke-linecap="round">
    <ellipse cx="14.8" cy="31.8" rx="14.4" ry="6.6"/>
    <path d="M8 22 Q14.8 18 21.5 22 L22.5 33 Q14.8 36.5 7 33 Z"/>
    
    <circle cx="13.6" cy="14.6" r="9"/>
    <path d="M6 9.5 Q10 12.5 13.6 9 Q17 12.5 21.5 10" fill="none"/>
    <circle cx="6.8" cy="24.8" r="4.4"/>
    <circle cx="21.6" cy="24.4" r="4.4"/>
    <ellipse cx="14.5" cy="33.6" rx="3" ry="1.8"/>
    <path d="M9.4 16.2 q1.3 -1.1 2.6 0 M15.6 15.8 q1.3 -1.1 2.6 0 M12.6 19.4 q1.5 1.3 3 0" fill="none"/>
    <g stroke="none" fill="#f6a27c"><ellipse cx="7.6" cy="18.6" rx="1.7" ry="1.3"/><ellipse cx="20.2" cy="17.8" rx="1.7" ry="1.3"/><circle cx="5" cy="26" r="1"/><circle cx="23.4" cy="25.6" r="1"/></g>
  </g>
  <g transform="translate(480.2 103.7) scale(0.74)" fill="#fff" stroke="#303030" stroke-width="1.2" stroke-linejoin="round" stroke-linecap="round">
    <ellipse cx="14.8" cy="31.8" rx="14.4" ry="6.6"/>
    <path d="M8 22 Q14.8 18 21.5 22 L22.5 33 Q14.8 36.5 7 33 Z"/>
    <ellipse cx="14" cy="3.6" rx="4.6" ry="2.8"/>
    <circle cx="13.6" cy="14.6" r="9"/>
    <path d="M5.4 11 Q13 16.5 22.2 11.5" fill="none"/>
    <circle cx="6.8" cy="24.8" r="4.4"/>
    <circle cx="21.6" cy="24.4" r="4.4"/>
    <ellipse cx="14.5" cy="33.6" rx="3" ry="1.8"/>
    <path d="M9.4 16.2 q1.3 -1.1 2.6 0 M15.6 15.8 q1.3 -1.1 2.6 0 M12.6 19.4 q1.5 1.3 3 0" fill="none"/>
    <g stroke="none" fill="#f6a27c"><ellipse cx="7.6" cy="18.6" rx="1.7" ry="1.3"/><ellipse cx="20.2" cy="17.8" rx="1.7" ry="1.3"/><circle cx="5" cy="26" r="1"/><circle cx="23.4" cy="25.6" r="1"/></g>
  </g>
  <g transform="translate(581.4 572.6) scale(1.0)" fill="#fff" stroke="#3a3a3a" stroke-width="0.80" stroke-linejoin="round" stroke-linecap="round">
    <ellipse cx="14.8" cy="31.8" rx="14.4" ry="6.6"/>
    <path d="M8 22 Q14.8 18 21.5 22 L22.5 33 Q14.8 36.5 7 33 Z"/>
    <circle cx="10.6" cy="3.8" r="3.6"/>
    <circle cx="13.6" cy="14.6" r="9"/>
    <path d="M5.4 11 Q13 16.5 22.2 11.5" fill="none"/>
    <circle cx="6.8" cy="24.8" r="4.4"/>
    <circle cx="21.6" cy="24.4" r="4.4"/>
    <ellipse cx="14.5" cy="33.6" rx="3" ry="1.8"/>
    <path d="M9.4 16.2 q1.3 -1.1 2.6 0 M15.6 15.8 q1.3 -1.1 2.6 0 M12.6 19.4 q1.5 1.3 3 0" fill="none"/>
    <g stroke="none" fill="#f6a27c"><ellipse cx="7.6" cy="18.6" rx="1.7" ry="1.3"/><ellipse cx="20.2" cy="17.8" rx="1.7" ry="1.3"/><circle cx="5" cy="26" r="1"/><circle cx="23.4" cy="25.6" r="1"/></g>
  </g>
  <g transform="translate(602 892.6) scale(1.0)" fill="#fff" stroke="#3a3a3a" stroke-width="0.80" stroke-linejoin="round" stroke-linecap="round">
    <ellipse cx="14.8" cy="31.8" rx="14.4" ry="6.6"/>
    <path d="M8 22 Q14.8 18 21.5 22 L22.5 33 Q14.8 36.5 7 33 Z"/>
    <circle cx="10.6" cy="3.8" r="3.6"/>
    <circle cx="13.6" cy="14.6" r="9"/>
    <path d="M5.4 11 Q13 16.5 22.2 11.5" fill="none"/>
    <circle cx="6.8" cy="24.8" r="4.4"/>
    <circle cx="21.6" cy="24.4" r="4.4"/>
    <ellipse cx="14.5" cy="33.6" rx="3" ry="1.8"/>
    <path d="M9.4 16.2 q1.3 -1.1 2.6 0 M15.6 15.8 q1.3 -1.1 2.6 0 M12.6 19.4 q1.5 1.3 3 0" fill="none"/>
    <g stroke="none" fill="#f6a27c"><ellipse cx="7.6" cy="18.6" rx="1.7" ry="1.3"/><ellipse cx="20.2" cy="17.8" rx="1.7" ry="1.3"/><circle cx="5" cy="26" r="1"/><circle cx="23.4" cy="25.6" r="1"/></g>
  </g>
  <g fill="#fff" stroke="#333" stroke-width="0.85" stroke-linejoin="round" stroke-linecap="round">
    <path d="M578.2 358.6 q-2.2 2.4 .2 4 q2 .8 3 -1.2 M583.4 362.4 q-.6 2.8 2.4 3 q2.4 -.2 2.2 -2.2"/>
    <ellipse cx="585.6" cy="356.4" rx="9" ry="6.9" transform="rotate(20 585.6 356.4)"/>
    <path d="M590.2 358.4 L594.2 364.6 L593 365.6 L594.6 366.2 L594.4 368 L596 367 L597.2 368.4 L597.6 366.6 L599.4 366.6 L598.2 365.2 L599 363.6 L597 364 L593.6 357 Z"/>
    <path d="M596 357.4 L602.4 362 L601.6 363.4 L603.4 363.4 L603.8 365.2 L605 363.8 L606.8 364.6 L606.4 362.8 L608 361.8 L606.2 361.2 L606 359.4 L604.4 360.6 L599.6 355.6 Z"/>
    <ellipse cx="596.7" cy="338" rx="3.3" ry="3.7"/>
    <circle cx="597.4" cy="348.2" r="7.4"/>
    <path d="M591 344.6 Q597 351 604.6 346.4" fill="none"/>
    <path d="M596.6 352 q.8 -.8 1.6 0 M599 355.2 q1.4 .2 2.4 -.8" fill="none" stroke-width=".7"/>
    <path d="M607.8 381.4 L605.6 376.8 L603.6 376.6 L602.4 374.6 L604 373.4 L604.2 371.8 L606 372.6 L607.4 371.8 L607.8 373.6 L608 375.8 L610.4 380.4"/>
    <path d="M619.6 374.6 L614 371.4 L612.2 372 L610 370.8 L610.2 368.8 L609.4 367.4 L611.4 367 L612.6 365.8 L613.8 367.4 L615 369.2 L620.8 372.4"/>
    <g stroke="none" fill="#f6a27c"><circle cx="594" cy="351.6" r="1.35"/></g>
  </g>
  <g fill="#fff" stroke="#3a3a3a" stroke-width="0.8" stroke-linejoin="round" stroke-linecap="round">
    <path d="M592.4 529.6 Q593.5 541 599.6 547.8 L607.8 542.2 Q603.5 534 600.8 529.5 Z"/>
    <path d="M600.6 548 l2 3.4 l1.6 -1 l-1.2 -3.6 M605 545.2 l2.8 2.8 l1.4 -1.2 l-2 -3.2"/>
    <path d="M593 530.5 L588 523.4 l-1.6 -1.8 l1 2.4 l-2.4 -0.8 l2 1.6 L591.2 532 Z"/>
    <circle cx="606.5" cy="524.9" r="2.9"/>
    <circle cx="597.4" cy="525.3" r="5.8"/>
    <path d="M599 519.8 Q598 524 601.5 529.3" fill="none"/>
    <path d="M581.5 510.5 l2.2 5.6 l-1.6 1.6 l3.2 1 l2.4 -1.6 l-2 -1.6 l-1.8 -5.6 Z"/>
    <path d="M575.6 518.6 l3.6 0.6 l1.2 2.6 l-1.2 2 l-2.2 -0.6 l-0.4 -2.2 l-2 -0.6 Z"/>
    <g stroke="none" fill="#f6a27c"><circle cx="597.2" cy="528.6" r="1.3"/></g>
  </g>
  <g fill="#fff" stroke="#3a3a3a" stroke-width="0.8" stroke-linejoin="round" stroke-linecap="round">
    <path d="M596.4 667 v7 h2.6 v-7 M600.4 667 v7 h2.6 v-7" fill="#ddd"/>
    <path d="M595.4 653.4 Q594 660 594.6 667.6 L605.6 667.6 Q605.8 659 603.6 653 Z"/>
    <path d="M595 656 q3 -2.4 5.6 0.4 q-1 3 -4.4 2.8"/>
    <circle cx="607" cy="638.6" r="3.2"/>
    <circle cx="599.3" cy="645.2" r="7.3"/>
    <path d="M596.5 638.6 Q599 645 606.3 646.6" fill="none"/>
    <path d="M597.5 648.6 q0.6 1.6 1.6 0" fill="none"/>
    <ellipse cx="580.1" cy="643.6" rx="7.6" ry="4.6"/>
    <path d="M576 647.4 l-0.8 3 l3.4 -2" />
    <ellipse cx="583" cy="658.7" rx="6.4" ry="3.9"/>
    <path d="M580 662 l-0.8 2.6 l3.2 -1.8"/>
    <g stroke="none" fill="#444"><circle cx="577" cy="643.6" r=".8"/><circle cx="580.1" cy="643.6" r=".8"/><circle cx="583.2" cy="643.6" r=".8"/><circle cx="580.4" cy="658.7" r=".7"/><circle cx="583" cy="658.7" r=".7"/><circle cx="585.6" cy="658.7" r=".7"/></g>
    <g stroke="none" fill="#f6a27c"><circle cx="593.8" cy="647.6" r="1.2"/><circle cx="602.8" cy="648" r="1.5"/></g>
    <path d="M592.2 636.6 l-1 -2.2 M595.2 635.2 l-0.5 -2.4 M598.4 634.8 l0.2 -2.4" stroke="#a5622a" stroke-width="1.2" fill="none"/>
  </g>
  <g fill="#fff" stroke="#4a4a4a" stroke-width="0.8" stroke-linejoin="round" stroke-linecap="round">
    <path d="M398.6 728 Q395.4 735 398 741 Q405 744.5 411.6 739.5 Q416 733 411.6 726.5 Q405.5 723.5 398.6 728 Z"/>
    <path d="M398.2 731 Q400 727.5 404.6 727.8 M399.4 740.6 Q398.8 733 404.8 729"  fill="none"/>
    <circle cx="410.4" cy="712.2" r="3"/>
    <circle cx="403.9" cy="720.8" r="7.7"/>
    <path d="M398.8 715.2 Q404 721.5 411.4 719.4" fill="none"/>
    <path d="M378.5 736 l6.5 -3.6 l8 5.6 l-6 4.2 Z"/>
    <circle cx="386.6" cy="734" r="3.4"/>
    <path d="M384.5 743.6 l6 -3.4 l6.4 4.6 l-5.6 3.8 Z"/>
    <circle cx="392" cy="741.6" r="3.1"/>
    <g fill="#e07a2e" stroke="#8a4a1a" stroke-width=".35"><path d="M375.6 723.8 l3.6 2.4 l-1 1 l2.6 3.6 l-4 -2.8 l1.1 -1 Z"/><path d="M384.4 720.6 l2.6 3.2 l-1.2 .6 l1.6 4.2 l-3.4 -3.8 l1.3 -.7 Z"/><path d="M394.8 722 l-.2 3.6 l-1.3 -.2 l-1 4.4 l-.6 -5.2 l1.3 .1 Z"/></g>
    <g stroke="none" fill="#f6a27c"><circle cx="399.4" cy="724.2" r="1.2"/><circle cx="407.4" cy="725" r="1.5"/></g>
    <g stroke="none" fill="#ccc"><circle cx="394.4" cy="746.6" r=".7"/><circle cx="398.8" cy="746" r=".7"/><circle cx="394.8" cy="749.4" r=".7"/></g>
  </g>
</svg>
</body>
</html>
